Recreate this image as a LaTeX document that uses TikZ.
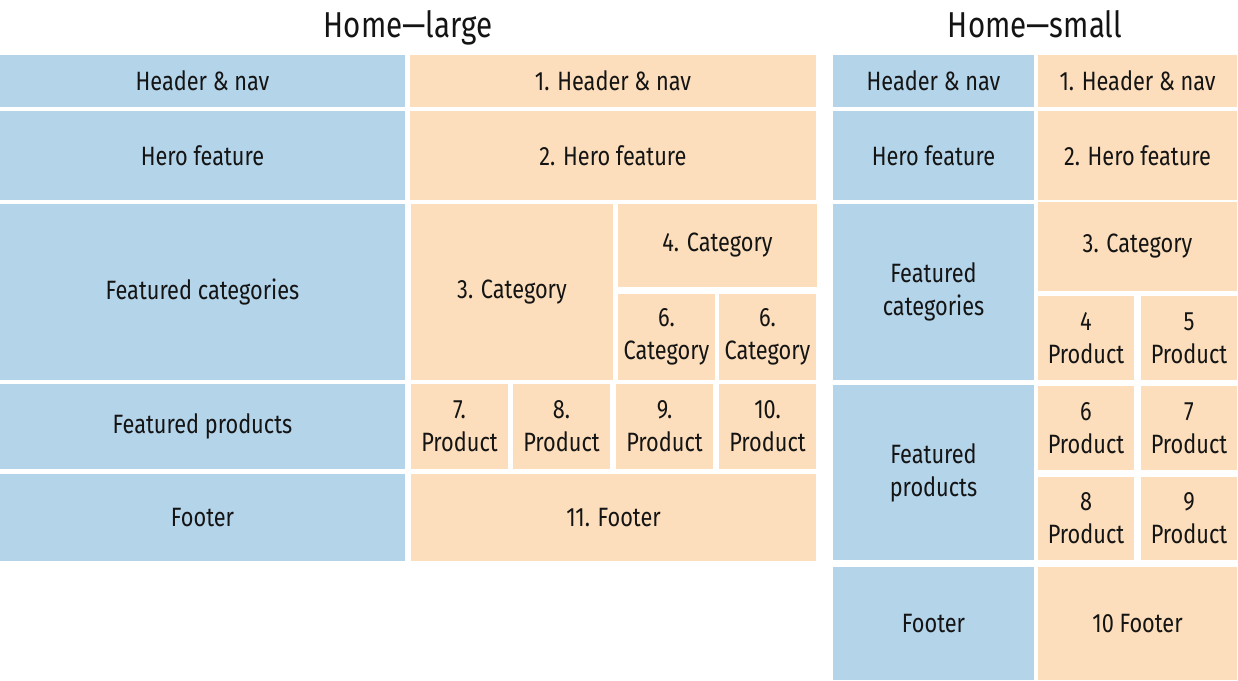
\documentclass[tikz,border=0pt]{standalone}
\usepackage{fontspec}
\setmainfont{Fira Sans}[FakeStretch=0.82]
\definecolor{bluebox}{HTML}{B4D4EA}
\definecolor{orangebox}{HTML}{FCDEBC}
\definecolor{inktext}{HTML}{141414}
\tikzset{
  blk/.style={inner sep=0pt, align=center, text=inktext,
    font=\fontsize{26.5}{33}\selectfont},
  bluecell/.style={blk, fill=bluebox},
  orangecell/.style={blk, fill=orangebox},
  heading/.style={anchor=base, text=inktext, font=\fontsize{36}{40}\selectfont}
}
% \cell{style}{name}{x0}{y0}{x1}{y1}{text}
\newcommand{\cell}[7]{%
  \node[#1, minimum width={#5-#3}, minimum height={#6-#4}]
    (#2) at ({(#3+#5)/2},{(#4+#6)/2}) {#7};}
\begin{document}
\begin{tikzpicture}[x=1pt,y=-1pt]
\useasboundingbox (0,0) rectangle (1238,680);
\node[heading] (tl) at (408,37) {Home—large};
\node[heading] (ts) at (1035,37) {Home—small};
% large: blue
\cell{bluecell}{lb1}{0}{55}{405}{107}{Header \& nav}
\cell{bluecell}{lb2}{0}{111}{405}{200}{Hero feature}
\cell{bluecell}{lb3}{0}{204}{405}{380}{Featured categories}
\cell{bluecell}{lb4}{0}{384}{405}{469}{Featured products}
\cell{bluecell}{lb5}{0}{474}{405}{561}{Footer}
% large: orange
\cell{orangecell}{lo1}{410}{55}{816}{107}{1. Header \& nav}
\cell{orangecell}{lo2}{410}{111}{816}{200}{2. Hero feature}
\cell{orangecell}{lo3}{411}{204}{613}{380}{3. Category}
\cell{orangecell}{lo4}{618}{204}{817}{287}{4. Category}
\cell{orangecell}{lo6a}{618}{294}{715}{380}{6.\\Category}
\cell{orangecell}{lo6b}{719}{294}{816}{380}{6.\\Category}
\cell{orangecell}{lo7}{411}{384}{508}{469}{7.\\Product}
\cell{orangecell}{lo8}{513}{384}{610}{469}{8.\\Product}
\cell{orangecell}{lo9}{616}{384}{713}{469}{9.\\Product}
\cell{orangecell}{lo10}{719}{384}{816}{469}{10.\\Product}
\cell{orangecell}{lo11}{411}{474}{816}{561}{11. Footer}
% small: blue
\cell{bluecell}{sb1}{833}{55}{1034}{107}{Header \& nav}
\cell{bluecell}{sb2}{833}{111}{1034}{200}{Hero feature}
\cell{bluecell}{sb3}{833}{204}{1034}{380}{Featured\\categories}
\cell{bluecell}{sb4}{833}{385}{1034}{560}{Featured\\products}
\cell{bluecell}{sb5}{833}{567}{1034}{680}{Footer}
% small: orange
\cell{orangecell}{so1}{1038}{55}{1237}{107}{1. Header \& nav}
\cell{orangecell}{so2}{1038}{111}{1237}{200}{2. Hero feature}
\cell{orangecell}{so3}{1038}{202}{1237}{291}{3. Category}
\cell{orangecell}{so4}{1038}{296}{1134}{380}{4\\Product}
\cell{orangecell}{so5}{1141}{296}{1237}{380}{5\\Product}
\cell{orangecell}{so6}{1038}{386}{1134}{470}{6\\Product}
\cell{orangecell}{so7}{1141}{386}{1237}{470}{7\\Product}
\cell{orangecell}{so8}{1038}{477}{1134}{560}{8\\Product}
\cell{orangecell}{so9}{1141}{477}{1237}{560}{9\\Product}
\cell{orangecell}{so10}{1038}{567}{1237}{680}{10 Footer}
\end{tikzpicture}
\end{document}
